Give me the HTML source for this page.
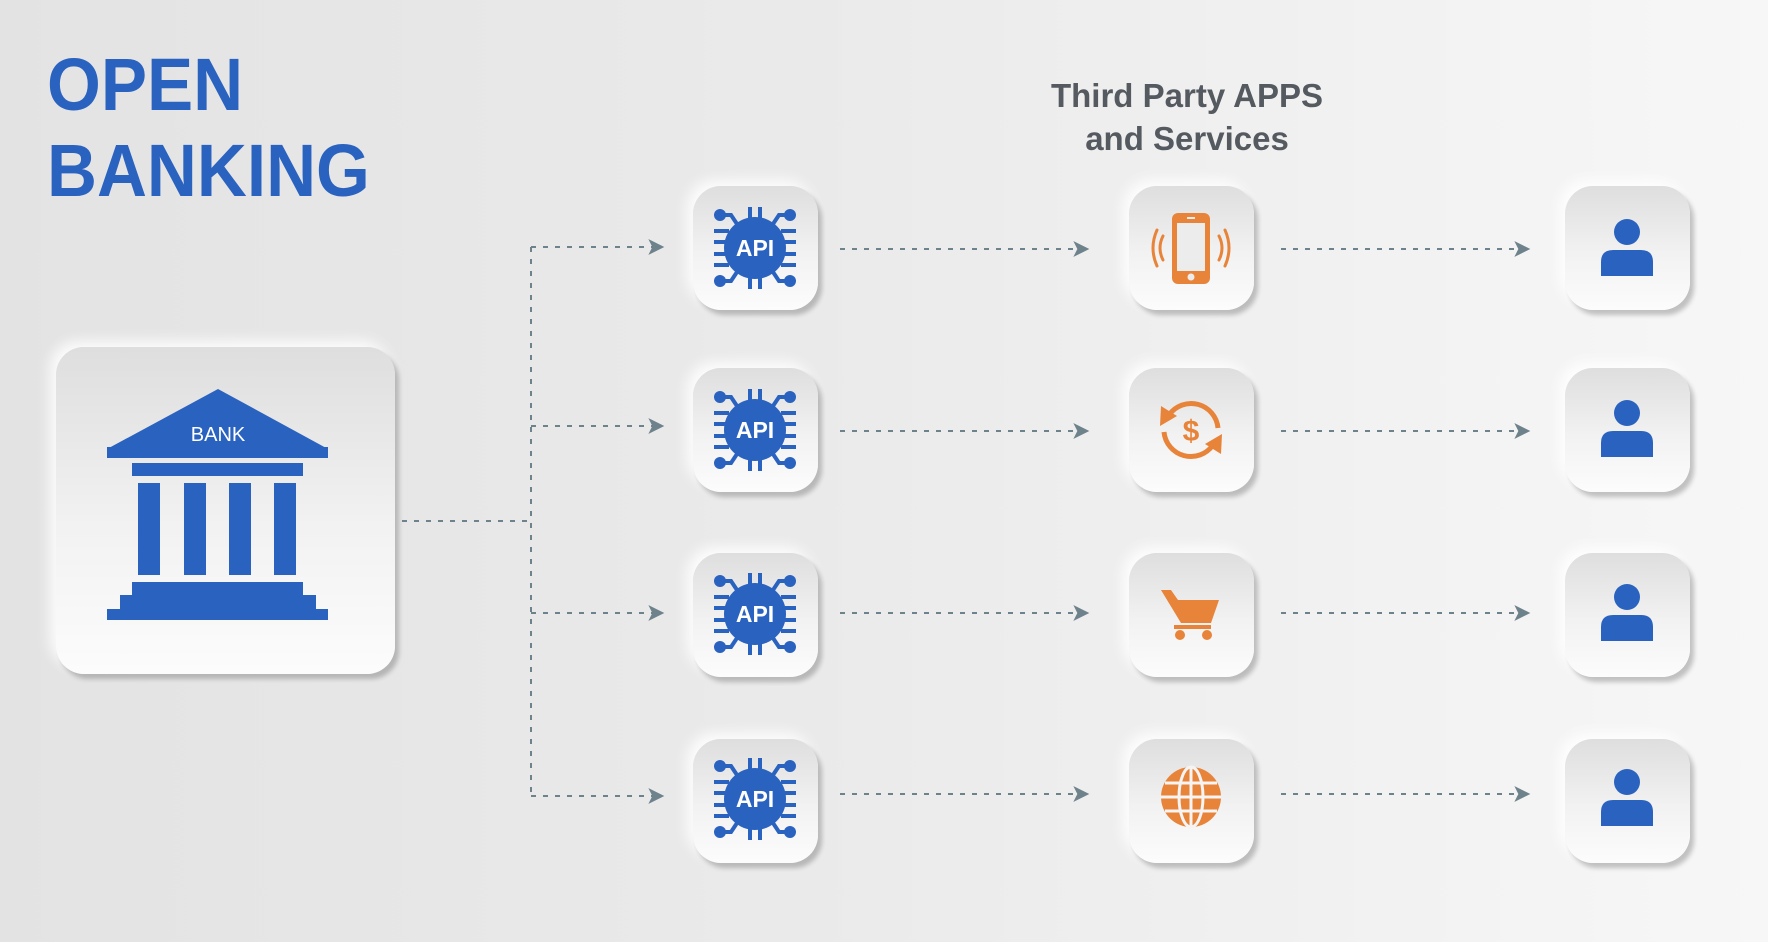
<!DOCTYPE html>
<html><head><meta charset="utf-8"><style>
html,body{margin:0;padding:0}
body{width:1768px;height:942px;position:relative;overflow:hidden;background:linear-gradient(90deg,#e3e3e3 0%,#ebebeb 50%,#f7f7f7 100%);font-family:"Liberation Sans",sans-serif}
.box{position:absolute;border-radius:28px;background:linear-gradient(180deg,#dedede 0%,#f2f2f2 55%,#fcfcfc 100%);box-shadow:4px 5px 5px rgba(0,0,0,0.22),-6px -6px 14px rgba(255,255,255,0.9)}
.t{position:absolute;color:#2a62c0;font-weight:bold;font-size:74px;left:47px;letter-spacing:0px;transform:scaleX(0.935);transform-origin:0 0}
.h{position:absolute;left:987px;width:400px;text-align:center;color:#555a60;font-weight:bold;font-size:33px;line-height:43px;top:74px}
svg{position:absolute;left:0;top:0}
</style></head><body>
<div class="t" style="top:42px">OPEN</div>
<div class="t" style="top:128px">BANKING</div>
<div class="h">Third Party APPS<br>and Services</div>

<div class="box" style="left:56px;top:347px;width:339px;height:327px"></div>
<div class="box" style="left:693px;top:186px;width:125px;height:124px"></div>
<div class="box" style="left:693px;top:368px;width:125px;height:124px"></div>
<div class="box" style="left:693px;top:553px;width:125px;height:124px"></div>
<div class="box" style="left:693px;top:739px;width:125px;height:124px"></div>
<div class="box" style="left:1129px;top:186px;width:125px;height:124px"></div>
<div class="box" style="left:1129px;top:368px;width:125px;height:124px"></div>
<div class="box" style="left:1129px;top:553px;width:125px;height:124px"></div>
<div class="box" style="left:1129px;top:739px;width:125px;height:124px"></div>
<div class="box" style="left:1565px;top:186px;width:125px;height:124px"></div>
<div class="box" style="left:1565px;top:368px;width:125px;height:124px"></div>
<div class="box" style="left:1565px;top:553px;width:125px;height:124px"></div>
<div class="box" style="left:1565px;top:739px;width:125px;height:124px"></div>

<svg width="1768" height="942" viewBox="0 0 1768 942">
<defs>
<marker id="ar" viewBox="0 0 12 12" refX="11" refY="6" markerWidth="16" markerHeight="16" markerUnits="userSpaceOnUse" orient="auto"><path d="M0,0 L12,6 L0,12 L3,6 Z" fill="#6e828c"/></marker>
</defs>
<g stroke="#6e828c" stroke-width="2" stroke-dasharray="5,7" fill="none">
<path d="M402,521 H531"/>
<path d="M531,247 V796"/>
<path d="M531,247 H663" marker-end="url(#ar)"/>
<path d="M531,426 H663" marker-end="url(#ar)"/>
<path d="M531,613 H663" marker-end="url(#ar)"/>
<path d="M531,796 H663" marker-end="url(#ar)"/>
<path d="M840,249 H1088" marker-end="url(#ar)"/>
<path d="M840,431 H1088" marker-end="url(#ar)"/>
<path d="M840,613 H1088" marker-end="url(#ar)"/>
<path d="M840,794 H1088" marker-end="url(#ar)"/>
<path d="M1281,249 H1529" marker-end="url(#ar)"/>
<path d="M1281,431 H1529" marker-end="url(#ar)"/>
<path d="M1281,613 H1529" marker-end="url(#ar)"/>
<path d="M1281,794 H1529" marker-end="url(#ar)"/>
</g>

<!-- bank -->
<g fill="#2a62c0">
<polygon points="218,389 328,449 107,449"/>
<rect x="107" y="447" width="221" height="11"/>
<rect x="132" y="463" width="171" height="13"/>
<rect x="138" y="483" width="22" height="92"/>
<rect x="184" y="483" width="22" height="92"/>
<rect x="229" y="483" width="22" height="92"/>
<rect x="274" y="483" width="22" height="92"/>
<rect x="132" y="582" width="171" height="14"/>
<rect x="120" y="595" width="196" height="15"/>
<rect x="107" y="609" width="221" height="11"/>
</g>
<text x="218" y="441" fill="#fff" font-size="20" text-anchor="middle" font-family="Liberation Sans, sans-serif">BANK</text>

<!-- API icons -->
<g transform="translate(755,248)">
<g stroke="#2a62c0" stroke-width="4" fill="none">
<path d="M-41,-17H-26M-41,-6H-30M-41,6H-30M-41,17H-26M41,-17H26M41,-6H30M41,6H30M41,17H26"/>
<path d="M-5,-41V-28M5,-41V-28M-5,41V28M5,41V28"/>
<path d="M-34,-33H-24L-18,-24M34,-33H24L18,-24M-34,33H-24L-18,24M34,33H24L18,24"/>
</g>
<g fill="#2a62c0"><circle r="31"/><circle cx="-35" cy="-33" r="6"/><circle cx="35" cy="-33" r="6"/><circle cx="-35" cy="33" r="6"/><circle cx="35" cy="33" r="6"/></g>
<text y="8" fill="#fff" font-size="23" font-weight="bold" text-anchor="middle" font-family="Liberation Sans, sans-serif">API</text>
</g>
<g transform="translate(755,430)">
<g stroke="#2a62c0" stroke-width="4" fill="none">
<path d="M-41,-17H-26M-41,-6H-30M-41,6H-30M-41,17H-26M41,-17H26M41,-6H30M41,6H30M41,17H26"/>
<path d="M-5,-41V-28M5,-41V-28M-5,41V28M5,41V28"/>
<path d="M-34,-33H-24L-18,-24M34,-33H24L18,-24M-34,33H-24L-18,24M34,33H24L18,24"/>
</g>
<g fill="#2a62c0"><circle r="31"/><circle cx="-35" cy="-33" r="6"/><circle cx="35" cy="-33" r="6"/><circle cx="-35" cy="33" r="6"/><circle cx="35" cy="33" r="6"/></g>
<text y="8" fill="#fff" font-size="23" font-weight="bold" text-anchor="middle" font-family="Liberation Sans, sans-serif">API</text>
</g>
<g transform="translate(755,614)">
<g stroke="#2a62c0" stroke-width="4" fill="none">
<path d="M-41,-17H-26M-41,-6H-30M-41,6H-30M-41,17H-26M41,-17H26M41,-6H30M41,6H30M41,17H26"/>
<path d="M-5,-41V-28M5,-41V-28M-5,41V28M5,41V28"/>
<path d="M-34,-33H-24L-18,-24M34,-33H24L18,-24M-34,33H-24L-18,24M34,33H24L18,24"/>
</g>
<g fill="#2a62c0"><circle r="31"/><circle cx="-35" cy="-33" r="6"/><circle cx="35" cy="-33" r="6"/><circle cx="-35" cy="33" r="6"/><circle cx="35" cy="33" r="6"/></g>
<text y="8" fill="#fff" font-size="23" font-weight="bold" text-anchor="middle" font-family="Liberation Sans, sans-serif">API</text>
</g>
<g transform="translate(755,799)">
<g stroke="#2a62c0" stroke-width="4" fill="none">
<path d="M-41,-17H-26M-41,-6H-30M-41,6H-30M-41,17H-26M41,-17H26M41,-6H30M41,6H30M41,17H26"/>
<path d="M-5,-41V-28M5,-41V-28M-5,41V28M5,41V28"/>
<path d="M-34,-33H-24L-18,-24M34,-33H24L18,-24M-34,33H-24L-18,24M34,33H24L18,24"/>
</g>
<g fill="#2a62c0"><circle r="31"/><circle cx="-35" cy="-33" r="6"/><circle cx="35" cy="-33" r="6"/><circle cx="-35" cy="33" r="6"/><circle cx="35" cy="33" r="6"/></g>
<text y="8" fill="#fff" font-size="23" font-weight="bold" text-anchor="middle" font-family="Liberation Sans, sans-serif">API</text>
</g>

<!-- phone -->
<g transform="translate(1191,248)">
<rect x="-19" y="-35" width="38" height="71" rx="6" fill="#e8843a"/>
<rect x="-14" y="-25" width="28" height="48" fill="#ececec"/>
<circle cy="29" r="3.5" fill="#ececec"/>
<rect x="-4" y="-31" width="8" height="2" fill="#ececec"/>
<g stroke="#e8843a" stroke-width="3" fill="none" stroke-linecap="round">
<path d="M-28,-12 Q-34,0 -28,12"/><path d="M-34,-18 Q-42,0 -34,18"/>
<path d="M28,-12 Q34,0 28,12"/><path d="M34,-18 Q42,0 34,18"/>
</g>
</g>
<!-- dollar cycle -->
<g transform="translate(1191,430)">
<g stroke="#e8843a" stroke-width="5" fill="none">
<path d="M-22,-15 A27,27 0 0 1 27,-2"/>
<path d="M22,15 A27,27 0 0 1 -27,2"/>
</g>
<polygon points="-30,-24 -14,-14 -31,-4" fill="#e8843a"/>
<polygon points="30,24 14,14 31,4" fill="#e8843a"/>
<text y="11" fill="#e8843a" font-size="30" font-weight="bold" text-anchor="middle" font-family="Liberation Sans, sans-serif">$</text>
</g>
<!-- cart -->
<g transform="translate(1191,613)" fill="#e8843a">
<path d="M-30,-23 H-20 L-13,-13 H28 L20,10 H-10 Z"/>
<rect x="-17" y="12" width="37" height="4"/>
<circle cx="-11" cy="22" r="5"/><circle cx="16" cy="22" r="5"/>
</g>
<!-- globe -->
<g transform="translate(1191,797)">
<circle r="30" fill="#e8843a"/>
<g stroke="#f4f4f4" stroke-width="3" fill="none">
<ellipse rx="12" ry="30"/><path d="M0,-30V30M-30,0H30M-26,-14H26M-26,14H26"/>
</g>
</g>
<!-- persons -->
<g fill="#2a62c0">
<circle cx="1627" cy="232" r="13"/><path d="M1601,276 V262 Q1601,250 1613,250 H1641 Q1653,250 1653,262 V276 Z"/>
<circle cx="1627" cy="413" r="13"/><path d="M1601,457 V443 Q1601,431 1613,431 H1641 Q1653,431 1653,443 V457 Z"/>
<circle cx="1627" cy="597" r="13"/><path d="M1601,641 V627 Q1601,615 1613,615 H1641 Q1653,615 1653,627 V641 Z"/>
<circle cx="1627" cy="782" r="13"/><path d="M1601,826 V812 Q1601,800 1613,800 H1641 Q1653,800 1653,812 V826 Z"/>
</g>
</svg>
</body></html>
